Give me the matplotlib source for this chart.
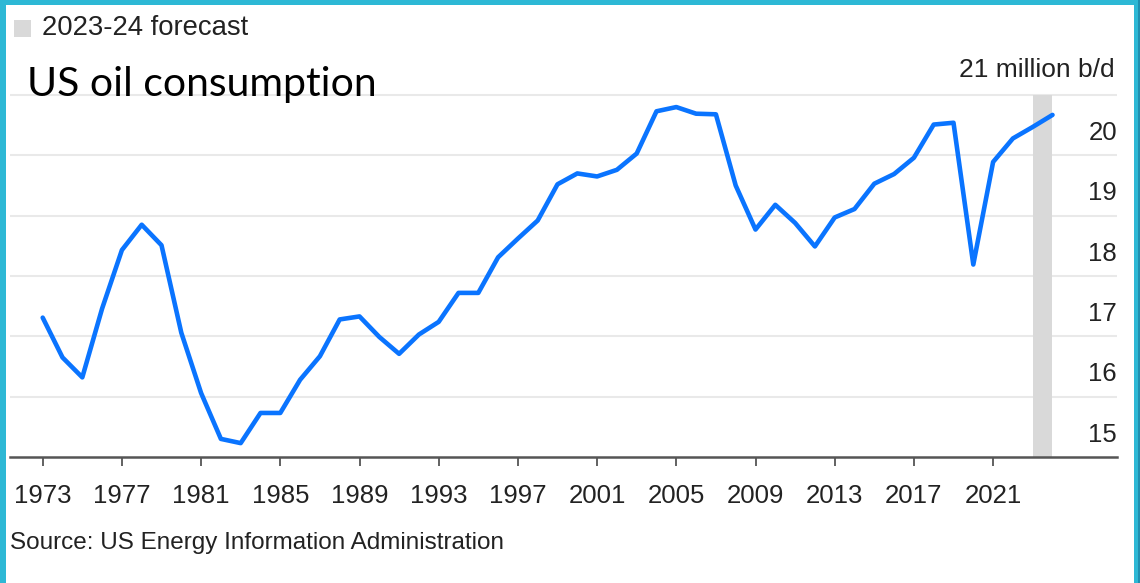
import matplotlib
matplotlib.use("Agg")
import matplotlib.pyplot as plt
from matplotlib.patches import Rectangle

# ---- data (million barrels per day) ----
years = list(range(1973, 2025))
consumption = [17.31, 16.65, 16.32, 17.46, 18.43, 18.85, 18.51, 17.06, 16.06, 15.30,
               15.23, 15.73, 15.73, 16.28, 16.67, 17.28, 17.33, 16.99, 16.71, 17.03,
               17.24, 17.72, 17.72, 18.31, 18.62, 18.92, 19.52, 19.70, 19.65, 19.76,
               20.03, 20.73, 20.80, 20.69, 20.68, 19.50, 18.77, 19.18, 18.88, 18.49,
               18.97, 19.11, 19.53, 19.69, 19.96, 20.51, 20.54, 18.19, 19.89, 20.28,
               20.47, 20.67]
forecast_span = (2023, 2024)
xtick_years = list(range(1973, 2022, 4))
ytick_vals = [15, 16, 17, 18, 19, 20]
unit_label = "21 million b/d"
title = "US oil consumption"
legend_label = "2023-24 forecast"
source = "Source: US Energy Information Administration"

W, H = 1140, 583
fig = plt.figure(figsize=(W / 100, H / 100), dpi=100)
fig.patch.set_facecolor("white")

def fx(px):
    return px / W

def fy(py):
    return 1 - py / H

# axes: y=15 at 457px, y=21 at 95px
ppu = (457 - 95) / 6.0
ytop = 21.1
top_px = 457 - (ytop - 15) * ppu
left_px, right_px = 10, 1117
ax = fig.add_axes([fx(left_px), fy(457), (right_px - left_px) / W, (457 - top_px) / H])
ax.set_facecolor("white")

# x scale: 1973 at 42.7px, 19.8 px per year
px_per_year = 19.8
x0 = 1973 - (42.7 - left_px) / px_per_year
x1 = 1973 + (right_px - 42.7) / px_per_year
ax.set_xlim(x0, x1)
ax.set_ylim(15, ytop)

ax.axvspan(forecast_span[0], forecast_span[1], ymin=0, ymax=(21 - 15) / (ytop - 15),
           color="#D9D9D9", lw=0, zorder=1)
for v in range(16, 22):
    ax.axhline(v, color="#E9E9E9", lw=1.5, zorder=0.5)

ax.plot(years, consumption, color="#0A74FF", lw=3.3, zorder=3,
        solid_capstyle="round", solid_joinstyle="round")

for s in ["top", "left", "right"]:
    ax.spines[s].set_visible(False)
ax.spines["bottom"].set_color("#555555")
ax.spines["bottom"].set_linewidth(1.8)
ax.spines["bottom"].set_zorder(4)

ax.set_yticks([])
ax.set_xticks(xtick_years)
ax.set_xticklabels([str(y) for y in xtick_years])
ax.tick_params(axis="x", direction="out", length=6.5, width=1.3, color="#555555",
               labelsize=18.5, labelcolor="#222222", pad=13)
for lab in ax.get_xticklabels():
    lab.set_fontfamily("Liberation Sans")

for v in ytick_vals:
    ax.text(1.0, v + 0.37, str(v), transform=ax.get_yaxis_transform(),
            ha="right", va="center", fontsize=18.5, color="#222222",
            family="Liberation Sans", zorder=5)

fig.text(fx(right_px - 2), fy(70), unit_label, ha="right", va="center", fontsize=19,
         color="#222222", family="Liberation Sans")

# legend
fig.patches.append(Rectangle((fx(14), fy(37)), 17 / W, 17 / H, transform=fig.transFigure,
                             facecolor="#D9D9D9", edgecolor="none"))
fig.text(fx(42), fy(28), legend_label, ha="left", va="center", fontsize=19.8,
         color="#222222", family="Liberation Sans")

fig.text(fx(27), fy(96), title, ha="left", va="baseline", fontsize=29.5,
         color="#000000", family="Lato")

fig.text(fx(10), fy(543), source, ha="left", va="center", fontsize=17.5,
         color="#222222", family="Liberation Sans")

# cyan frame
cyan = "#2DB8D5"
fig.patches.append(Rectangle((0, 0), 6 / W, 1, transform=fig.transFigure, facecolor=cyan, edgecolor="none"))
fig.patches.append(Rectangle((0, fy(5)), 1, 5 / H, transform=fig.transFigure, facecolor=cyan, edgecolor="none"))
fig.patches.append(Rectangle((fx(1134), 0), 6 / W, 1, transform=fig.transFigure, facecolor=cyan, edgecolor="none"))
fig.patches.append(Rectangle((fx(1138), 0), 2 / W, 1, transform=fig.transFigure, facecolor="#1F8FB0", edgecolor="none"))

fig.savefig("out.png", dpi=100, facecolor="white")
